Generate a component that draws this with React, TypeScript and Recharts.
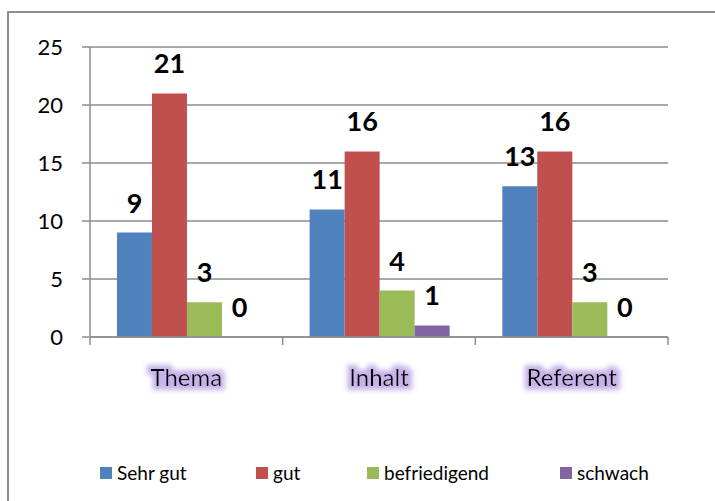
import { BarChart, Bar, XAxis, YAxis, CartesianGrid, LabelList } from 'recharts'

const categories = ['Thema', 'Inhalt', 'Referent']
const sehrGut = [9, 11, 13]
const gut = [21, 16, 16]
const befriedigend = [3, 4, 3]
const schwach = [0, 1, 0]
const yTicks = [0, 5, 10, 15, 20, 25]

const series = [
  { key: 'sehrGut', name: 'Sehr gut', color: '#4F81BD', values: sehrGut },
  { key: 'gut', name: 'gut', color: '#C0504D', values: gut },
  { key: 'befriedigend', name: 'befriedigend', color: '#9BBB59', values: befriedigend },
  { key: 'schwach', name: 'schwach', color: '#8064A2', values: schwach },
]

// legend slot widths, as laid out in the original
const legendSlots = [156, 111, 193, 100]

const data = categories.map((label, i) => {
  const row: Record<string, string | number> = { label }
  series.forEach((s) => {
    row[s.key] = s.values[i]
  })
  return row
})

const FONT = 'Lato, "Open Sans", sans-serif'
const GRID = '#8c8c8c'

function CategoryTick(props: any) {
  const { x, y, payload, index, visibleTicksCount } = props
  const half = payload?.offset ?? 0
  const isLast = index === (visibleTicksCount ?? categories.length) - 1
  const fid = `glow-${index}`
  return (
    <g>
      <defs>
        <filter id={fid} x="-30%" y="-60%" width="160%" height="220%">
          <feMorphology in="SourceAlpha" operator="dilate" radius="4" result="d" />
          <feGaussianBlur in="d" stdDeviation="2.5" result="b" />
          <feFlood floodColor="#c6b2e8" />
          <feComposite in2="b" operator="in" result="g" />
          <feMerge>
            <feMergeNode in="g" />
            <feMergeNode in="SourceGraphic" />
          </feMerge>
        </filter>
      </defs>
      <line x1={x - half} x2={x - half} y1={y} y2={y + 8} stroke={GRID} strokeWidth={1.5} />
      {isLast && <line x1={x + half} x2={x + half} y1={y} y2={y + 8} stroke={GRID} strokeWidth={1.5} />}
      <text
        x={x}
        y={y + 49}
        textAnchor="middle"
        fontSize={24}
        fontFamily={FONT}
        fill="#000"
        filter={`url(#${fid})`}
      >
        {payload.value}
      </text>
    </g>
  )
}

export default function App() {
  return (
    <div
      style={{
        position: 'fixed',
        left: 0,
        top: 0,
        width: 715,
        height: 501,
        overflow: 'hidden',
        background: '#fff',
      }}
    >
      <div
        style={{
          position: 'absolute',
          left: 7,
          top: 11,
          width: 730,
          height: 520,
          border: '2px solid #8e8e8e',
        }}
      />
      <div style={{ position: 'absolute', left: 0, top: 0 }}>
        <BarChart
          width={715}
          height={501}
          data={data}
          margin={{ top: 47, right: 47, left: 30, bottom: 104 }}
          barCategoryGap="14%"
          barGap={0}
        >
          <CartesianGrid vertical={false} stroke={GRID} strokeWidth={1.5} />
          <YAxis
            domain={[0, 25]}
            ticks={yTicks}
            width={60}
            tickSize={8}
            tickMargin={19}
            axisLine={{ stroke: GRID, strokeWidth: 1.5 }}
            tickLine={{ stroke: GRID, strokeWidth: 1.5 }}
            tick={{ fontSize: 22, fill: '#000', fontFamily: FONT }}
          />
          <XAxis
            dataKey="label"
            height={60}
            tickSize={0}
            tickMargin={0}
            tickLine={false}
            axisLine={{ stroke: GRID, strokeWidth: 1.5 }}
            tick={<CategoryTick />}
            interval={0}
          />
          {series.map((s) => (
            <Bar
              key={s.key}
              dataKey={s.key}
              name={s.name}
              fill={s.color}
              minPointSize={0.01}
              isAnimationActive={false}
            >
              <LabelList
                dataKey={s.key}
                position="top"
                offset={20}
                fill="#000"
                fontSize={27}
                fontWeight="bold"
                fontFamily={FONT}
              />
            </Bar>
          ))}
        </BarChart>
      </div>
      <div
        style={{
          position: 'absolute',
          left: 100,
          top: 461,
          width: 620,
          display: 'flex',
          alignItems: 'center',
          fontFamily: FONT,
          fontSize: 19,
          color: '#000',
        }}
      >
        {series.map((s, i) => (
          <div
            key={s.key}
            style={{
              display: 'flex',
              alignItems: 'center',
              gap: 5,
              width: legendSlots[i],
              flexShrink: 0,
            }}
          >
            <span style={{ width: 12, height: 12, background: s.color, display: 'inline-block' }} />
            <span>{s.name}</span>
          </div>
        ))}
      </div>
    </div>
  )
}
